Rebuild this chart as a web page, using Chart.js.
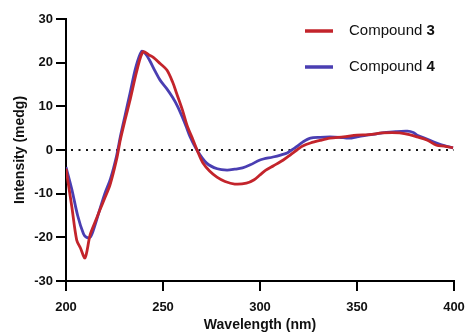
<!DOCTYPE html>
<html>
<head>
<meta charset="utf-8">
<script src="https://cdn.jsdelivr.net/npm/chart.js@4.4.1/dist/chart.umd.min.js"></script>
<style>
  html, body { margin: 0; padding: 0; background: #fff; }
  #cd { display: block; }
</style>
</head>
<body>
<canvas id="cd" width="468" height="332"></canvas>
<script>
// CD spectra
const wl3 = [200, 203, 205.5, 207.5, 209.8, 212.4, 215, 217.5, 220, 222.7, 226, 228, 230.5, 233, 236.6, 239.7, 243, 245, 248.5, 252, 255, 257, 260, 262.5, 265.5, 268, 270.6, 274, 277.8, 282, 287, 293, 297, 300, 303, 307, 312, 316, 319, 322, 326, 331, 336, 343, 350, 356, 363, 368, 372, 377, 381, 386, 391, 395, 399.5];
const cd3 = [-4.3, -13, -20.6, -22.5, -24.7, -19.5, -16.5, -13.7, -11, -8, -2.3, 2.3, 7, 11.4, 18.3, 22.5, 21.7, 21.2, 19.8, 18.3, 15.5, 13, 9.2, 5.5, 2.3, -0.5, -3, -4.8, -6.2, -7.2, -7.8, -7.6, -6.8, -5.7, -4.6, -3.6, -2.3, -1, 0, 0.9, 1.6, 2.2, 2.7, 3.0, 3.4, 3.5, 3.9, 4.0, 3.9, 3.5, 3.0, 2.3, 1.1, 0.9, 0.5];

const wl4 = [200, 203, 206, 209, 210.5, 212.4, 214, 217.5, 220, 223, 226, 228, 230.5, 233, 236, 239, 241, 243, 246, 248.5, 252, 255, 257.5, 260, 262, 264, 267.5, 272.5, 278, 283, 287, 291, 295, 300, 306.7, 311, 314, 317, 319, 322, 326, 331, 336, 341, 346, 350, 355, 360, 363, 370, 376, 379, 381, 386, 391, 395, 399.5];
const cd4 = [-3.9, -9, -15, -19.2, -20, -20, -18.5, -13.5, -10, -6.5, -1.5, 3, 8, 13, 19, 22.6, 22, 20.6, 18, 16, 14, 12, 10, 7.5, 5.3, 3, 0, -3, -4.3, -4.6, -4.4, -4.1, -3.4, -2.3, -1.6, -1.1, -0.7, 0.2, 0.8, 1.8, 2.7, 2.9, 3.0, 2.9, 2.7, 3.0, 3.4, 3.7, 3.9, 4.2, 4.3, 4.0, 3.4, 2.5, 1.6, 1.0, 0.5];

const xTicks = [200, 250, 300, 350, 400];
const yTicks = [-30, -20, -10, 0, 10, 20, 30];
const zeroLine = [200, 400];

const RED = '#c3242b';
const BLUE = '#4a3eb2';
const FONT = "'Liberation Sans', Arial, sans-serif";

function pts(xs, ys) {
    return xs.map((x, i) => ({ x: x, y: ys[i] }));
}

// legend drawn by hand so the compound number can be bold
const cdLegend = {
    id: 'cdLegend',
    afterDraw(chart) {
        const ctx = chart.ctx;
        const items = chart.data.datasets.filter(d => d.showInLegend);
        ctx.save();
        items.forEach((d, i) => {
            const y = 31 + i * 36;
            ctx.strokeStyle = d.borderColor;
            ctx.lineWidth = 3.5;
            ctx.beginPath();
            ctx.moveTo(305, y);
            ctx.lineTo(333, y);
            ctx.stroke();

            const parts = d.label.split(' ');
            const num = parts.pop();
            const head = parts.join(' ') + ' ';
            ctx.fillStyle = '#111';
            ctx.textBaseline = 'middle';
            ctx.font = '15px ' + FONT;
            ctx.fillText(head, 349, y);
            const w = ctx.measureText(head).width;
            ctx.font = 'bold 15px ' + FONT;
            ctx.fillText(num, 349 + w, y);
        });
        ctx.restore();
    }
};

new Chart(document.getElementById('cd'), {
    type: 'line',
    data: {
        datasets: [
            {
                label: 'Compound 3',
                data: pts(wl3, cd3),
                borderColor: RED,
                borderWidth: 2.8,
                pointRadius: 0,
                tension: 0.3,
                showInLegend: true
            },
            {
                label: 'Compound 4',
                data: pts(wl4, cd4),
                borderColor: BLUE,
                borderWidth: 2.8,
                pointRadius: 0,
                tension: 0.3,
                showInLegend: true
            },
            {
                label: 'zero',
                data: zeroLine.map(x => ({ x: x, y: 0 })),
                borderColor: '#111',
                borderWidth: 2,
                borderDash: [2, 5.5],
                borderDashOffset: -5,
                pointRadius: 0
            }
        ]
    },
    options: {
        responsive: false,
        animation: false,
        layout: { padding: { top: 19, right: 14, bottom: 0, left: 0 } },
        plugins: {
            legend: { display: false },
            tooltip: { enabled: false }
        },
        scales: {
            x: {
                type: 'linear',
                min: 200,
                max: 400,
                afterFit: s => { s.height = 51; s.paddingLeft = 0; s.paddingRight = 0; },
                afterBuildTicks: s => { s.ticks = xTicks.map(v => ({ value: v })); },
                border: { color: '#000', width: 2 },
                grid: { drawOnChartArea: false, color: '#000', lineWidth: 2, tickLength: 10 },
                ticks: {
                    color: '#111',
                    padding: 9,
                    maxRotation: 0,
                    font: { family: FONT, size: 13, weight: 'bold' }
                },
                title: {
                    display: true,
                    text: 'Wavelength (nm)',
                    color: '#111',
                    padding: { top: 0, bottom: 0 },
                    font: { family: FONT, size: 14, weight: 'bold', lineHeight: 1 }
                }
            },
            y: {
                min: -30,
                max: 30,
                afterFit: s => { s.width = 66; s.paddingTop = 0; s.paddingBottom = 0; },
                afterBuildTicks: s => { s.ticks = yTicks.map(v => ({ value: v })); },
                border: { color: '#000', width: 2 },
                grid: { drawOnChartArea: false, color: '#000', lineWidth: 2, tickLength: 10 },
                ticks: {
                    color: '#111',
                    padding: 3,
                    font: { family: FONT, size: 13, weight: 'bold' }
                },
                title: {
                    display: true,
                    text: 'Intensity (medg)',
                    color: '#111',
                    padding: { top: 13, bottom: 0 },
                    font: { family: FONT, size: 14, weight: 'bold', lineHeight: 1 }
                }
            }
        }
    },
    plugins: [cdLegend]
});
</script>
</body>
</html>
